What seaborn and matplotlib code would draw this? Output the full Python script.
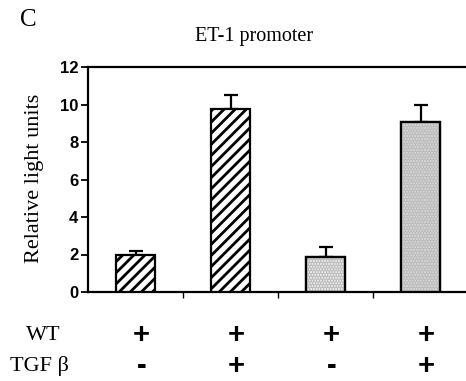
import matplotlib
matplotlib.use("Agg")
import matplotlib.pyplot as plt
import matplotlib.transforms as mtransforms
import seaborn as sns
import pandas as pd

# Luciferase readings for the ET-1 promoter construct
conditions = ["WT", "WT + TGFβ", "WT ", "WT + TGFβ "]
values = [2.0, 9.75, 1.85, 9.05]
errors = [0.2, 0.75, 0.55, 0.95]
wt_marks = ["+", "+", "+", "+"]
tgf_marks = ["-", "+", "-", "+"]
y_ticks = [0, 2, 4, 6, 8, 10, 12]

sns.set_style("ticks")
plt.rcParams["font.family"] = ["Liberation Serif", "DejaVu Serif"]
plt.rcParams["text.color"] = "black"
plt.rcParams["hatch.linewidth"] = 2.0

df = pd.DataFrame({"condition": conditions, "value": values})

fig = plt.figure(figsize=(4.66, 3.81), dpi=100)
ax = fig.add_axes([88 / 466, 1 - 292 / 381, 380 / 466, 225 / 381])

sns.barplot(data=df, x="condition", y="value", order=conditions,
            color="white", width=0.41, errorbar=None, ax=ax,
            edgecolor="black", linewidth=1.6, zorder=3)

fills = ["white", "white", "#ececec", "#d6d6d6"]
hatches = ["///", "///", None, None]
for patch, fc, h in zip(ax.patches, fills, hatches):
    patch.set_facecolor(fc)
    if h:
        patch.set_hatch(h)
    else:
        # fine stipple texture under the black outline
        tex = plt.Rectangle(patch.get_xy(), patch.get_width(), patch.get_height(),
                            facecolor="none", edgecolor="#bdbdbd", hatch="......",
                            linewidth=0, zorder=3.5)
        ax.add_patch(tex)
        outline = plt.Rectangle(patch.get_xy(), patch.get_width(), patch.get_height(),
                                facecolor="none", edgecolor="black",
                                linewidth=1.6, zorder=4)
        ax.add_patch(outline)

xs = list(range(len(conditions)))
ax.errorbar(xs, values, yerr=[[0] * len(errors), errors], fmt="none",
            ecolor="black", elinewidth=1.6, capsize=5, capthick=1.6, zorder=2)

ax.set_xlim(-0.5, len(conditions) - 0.5)
ax.set_ylim(0, 12)
ax.set_yticks(y_ticks)
ax.set_yticklabels([str(t) for t in y_ticks], fontfamily="Liberation Sans",
                   fontweight="bold", fontsize=12, color="black")
ax.set_xticks([i - 0.5 for i in range(1, len(conditions))])
ax.set_xticklabels([])
ax.tick_params(axis="y", length=5, width=1.3, pad=2, color="black")
ax.tick_params(axis="x", length=4, width=1.0, color="black")
ax.set_xlabel("")
ax.set_ylabel("")

for side in ["left", "bottom", "top"]:
    ax.spines[side].set_visible(True)
    ax.spines[side].set_color("black")
    ax.spines[side].set_linewidth(1.6)
ax.spines["right"].set_visible(False)

# +/- treatment rows under the bars
trans = mtransforms.blended_transform_factory(ax.transData, ax.transAxes)
for x, wt, tgf in zip(xs, wt_marks, tgf_marks):
    ax.text(x + 0.06, -43 / 225, wt, transform=trans, ha="center", va="center",
            fontfamily="Liberation Sans", fontweight="bold", fontsize=21)
    ax.text(x + 0.06, -74 / 225, tgf, transform=trans, ha="center", va="center",
            fontfamily="Liberation Sans", fontweight="bold", fontsize=21)

fig.text(43 / 466, 1 - 336 / 381, "WT", ha="center", va="center", fontsize=16)
fig.text(39 / 466, 1 - 366 / 381, "TGF β", ha="center", va="center", fontsize=16)

fig.text(35 / 466, 1 - 178 / 381, "Relative light units", rotation=90,
         ha="center", va="center", fontsize=16)
fig.text(254 / 466, 1 - 36 / 381, "ET-1 promoter", ha="center", va="center",
         fontsize=14.5)
fig.text(28 / 466, 1 - 20 / 381, "C", ha="center", va="center", fontsize=18)

fig.savefig("out.png", dpi=100)
